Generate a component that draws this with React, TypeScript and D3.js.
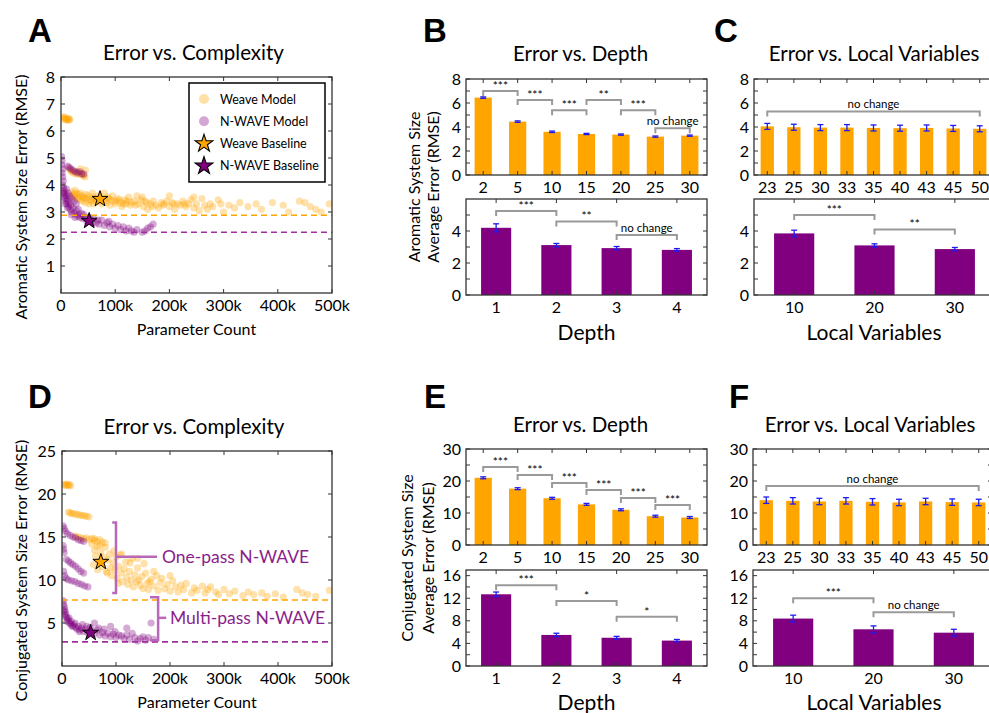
import React from "react";
import * as d3 from "d3";

const FONT = "Lato, 'Open Sans', sans-serif";
const ORANGE = "#FFA500";
const PURPLE = "#800080";
const NOTE = "#8a1e8a";
const GRAY = "#9a9a9a";

// ---- scatter data: [parameter count (k), RMSE] ----
const aromaticWeave: [number, number][] = [
  [3, 6.5], [5, 6.45], [6, 6.52], [8, 6.42], [9, 6.48], [11, 6.44], [12, 6.4], [14, 6.46], [15, 6.41], [16, 6.43],
  [15, 4.6], [18, 4.55], [20, 4.5], [22, 4.45], [25, 4.5], [27, 4.42], [30, 4.48], [32, 4.4], [35, 4.45], [38, 4.38],
  [40, 4.42], [42, 4.35], [44, 4.3], [45, 4.55], [36, 4.6],
  [20, 3.75], [22, 3.6], [25, 3.55], [28, 3.7], [30, 3.5], [32, 3.65], [35, 3.45], [38, 3.6], [40, 3.4], [42, 3.55],
  [45, 3.35], [48, 3.5], [50, 3.6], [52, 3.3], [55, 3.45], [58, 3.55], [60, 3.3], [62, 3.5], [65, 3.4], [68, 3.6],
  [75, 3.3], [78, 3.45], [80, 3.7], [85, 3.35], [88, 3.5], [90, 3.25], [95, 3.6], [98, 3.4], [100, 3.3], [105, 3.5],
  [110, 3.35], [112, 3.2], [118, 3.45], [120, 3.3], [125, 3.55], [128, 3.25], [135, 3.4], [140, 3.6], [142, 3.3],
  [148, 3.45], [152, 3.2], [158, 3.35], [160, 3.1], [165, 3.3], [170, 3.4], [175, 3.25], [180, 3.15], [185, 3.35],
  [190, 3.3], [195, 3.4], [200, 3.2], [205, 3.35], [210, 3.1], [215, 3.3], [220, 3.25], [225, 3.4], [230, 3.2],
  [235, 3.3], [240, 3.45], [245, 3.15], [250, 3.3], [255, 3.05], [260, 3.5], [265, 3.25], [270, 3.1], [275, 3.3],
  [280, 3.2], [290, 3.45], [295, 3.3], [300, 3.0], [310, 3.25], [320, 3.15], [330, 3.35], [345, 3.2], [360, 3.3],
  [370, 3.1], [390, 3.35], [410, 3.25], [420, 3.0], [440, 3.4], [450, 3.35], [460, 3.2], [470, 3.1], [480, 3.0],
  [495, 3.3], [245, 3.55], [200, 3.6], [150, 3.55],
  [24, 3.65], [33, 3.55], [44, 3.5], [56, 3.4], [66, 3.45], [72, 3.55], [82, 3.4], [92, 3.45], [102, 3.4],
  [115, 3.3], [130, 3.35], [138, 3.25], [155, 3.4], [168, 3.2], [188, 3.25], [208, 3.3], [228, 3.3],
  [26, 3.8], [36, 3.7], [46, 3.65], [58, 3.7], [70, 3.4], [86, 3.55], [108, 3.45], [122, 3.4],
];

const aromaticNwave: [number, number][] = [
  [1, 5.05], [2, 4.9], [1, 4.75], [3, 4.6], [2, 4.45], [3, 4.3], [4, 4.15], [3, 4.0], [5, 3.9], [4, 3.75],
  [6, 3.8], [7, 3.65], [6, 3.55], [8, 3.5], [9, 3.4], [10, 3.6], [11, 3.3], [12, 3.45], [14, 3.2], [15, 3.35],
  [17, 3.1], [18, 3.25], [20, 3.0], [22, 3.15], [25, 2.95], [28, 3.05], [30, 2.85], [33, 2.9], [35, 2.8], [38, 2.95],
  [40, 2.75], [45, 2.8], [48, 2.65], [55, 2.7], [58, 2.6], [60, 2.75], [65, 2.6], [70, 2.55], [75, 2.7], [80, 2.5],
  [85, 2.6], [90, 2.45], [95, 2.55], [100, 2.4], [105, 2.5], [110, 2.35], [115, 2.45], [120, 2.3], [125, 2.4],
  [130, 2.3], [135, 2.25], [140, 2.35], [150, 2.25], [155, 2.3], [160, 2.4], [165, 2.45], [170, 2.55],
  [12, 4.7], [15, 4.65], [18, 4.6], [22, 4.55], [26, 4.5], [30, 4.45], [34, 4.5], [38, 4.42], [42, 4.4],
  [10, 3.85], [13, 3.7], [16, 3.6], [20, 3.5], [24, 3.4], [28, 3.3],
  [5, 3.7], [8, 3.3], [12, 3.15], [19, 2.9], [26, 2.8], [32, 3.1], [42, 2.9], [52, 2.8], [68, 2.7], [88, 2.65],
];

const aromaticWeaveStar: [number, number] = [72, 3.48];
const aromaticNwaveStar: [number, number] = [52, 2.67];
const aromaticBest = [2.88, 2.25];

const conjugatedWeave: [number, number][] = [
  [4, 21.1], [6, 21.0], [8, 21.15], [10, 21.05], [12, 21.0], [14, 21.1], [16, 20.95],
  [12, 17.9], [15, 17.8], [18, 17.75], [22, 17.7], [26, 17.65], [30, 17.6], [34, 17.55], [38, 17.5], [42, 17.45],
  [46, 17.4], [50, 17.35],
  [25, 15.1], [30, 15.0], [35, 14.9], [40, 14.8], [45, 14.9], [50, 14.7], [55, 14.8], [60, 14.6], [65, 14.5],
  [70, 14.7], [75, 14.4], [80, 14.3],
  [55, 14.2], [60, 13.5], [62, 12.8], [65, 13.9], [68, 12.2], [72, 13.2], [75, 11.6], [78, 12.6], [80, 13.8],
  [82, 11.0], [85, 12.3], [88, 13.0], [90, 11.4], [92, 10.5], [95, 12.0], [98, 11.2], [100, 12.7], [102, 10.2],
  [105, 11.6], [108, 12.9], [110, 10.8], [112, 9.8], [115, 11.3], [118, 12.1], [120, 10.3], [122, 9.5], [125, 11.0],
  [128, 10.0], [130, 12.5], [132, 9.2], [135, 10.6], [138, 9.8], [140, 11.4], [145, 9.4], [148, 10.4], [150, 9.0],
  [155, 10.8], [158, 9.6], [160, 8.9], [165, 10.1], [170, 9.3], [175, 10.5], [178, 8.8], [182, 9.7], [185, 10.2],
  [190, 9.0], [195, 9.5], [200, 8.7], [205, 9.9], [210, 9.2], [215, 8.6], [220, 9.4], [225, 8.9], [230, 9.6],
  [240, 8.5], [245, 9.1], [250, 8.8], [260, 9.3], [265, 8.5], [270, 8.9], [275, 9.2], [285, 8.6], [290, 8.3],
  [300, 8.9], [310, 8.4], [320, 8.7], [335, 8.2], [345, 8.6], [355, 8.3], [370, 8.5], [380, 8.1], [395, 8.4],
  [410, 8.0], [435, 8.9], [445, 8.5], [455, 8.3], [470, 8.1], [495, 8.8], [60, 14.8], [70, 14.0], [110, 13.0],
  [140, 12.5], [170, 11.0], [200, 10.5],
  [58, 11.8], [66, 11.2], [84, 10.8], [96, 13.4], [104, 9.6], [126, 12.0], [142, 10.0], [152, 11.9], [162, 9.8],
];

const conjugatedNwave: [number, number][] = [
  [2, 16.3], [4, 16.0], [6, 15.7], [10, 15.4], [15, 15.2], [20, 15.0], [25, 14.9], [30, 14.7], [35, 14.6], [40, 14.5],
  [2, 14.0], [3, 13.6], [4, 13.2], [8, 12.4], [12, 12.2], [16, 12.0], [20, 11.8], [25, 11.6], [30, 11.3], [35, 11.0],
  [40, 10.8], [3, 11.0], [5, 10.5], [8, 10.2], [12, 10.0], [18, 9.9], [24, 9.8], [30, 9.6], [36, 9.5], [42, 9.3],
  [48, 9.2],
  [2, 7.6], [3, 7.2], [4, 6.9], [5, 6.6], [6, 6.3], [7, 6.0], [8, 5.7], [10, 5.5], [12, 5.3], [14, 5.0], [16, 4.9],
  [18, 4.7], [20, 4.6], [22, 4.8], [25, 4.5], [28, 4.3], [30, 4.6], [33, 4.2], [36, 4.4], [40, 4.0], [44, 4.3],
  [48, 3.9], [55, 4.1], [60, 3.8], [65, 4.2], [70, 3.6], [75, 3.9], [80, 3.5], [85, 3.8], [90, 3.4], [95, 3.7],
  [100, 3.3], [110, 3.5], [115, 3.2], [120, 3.6], [125, 3.1], [135, 3.3], [140, 2.9], [150, 3.4], [160, 3.3],
  [165, 5.0], [170, 3.1], [120, 4.4], [90, 4.6], [60, 5.0],
  [3, 6.4], [5, 5.9], [9, 5.2], [13, 5.6], [17, 5.2], [24, 5.0], [32, 4.0], [38, 4.8], [46, 4.6], [52, 4.5],
  [68, 4.4], [78, 4.3], [98, 4.0], [105, 3.6], [130, 3.8], [145, 3.2], [155, 3.0],
];

const conjugatedWeaveStar: [number, number] = [72, 12.1];
const conjugatedNwaveStar: [number, number] = [53, 3.85];
const conjugatedBest = [7.67, 2.8];

const paramTicks = [0, 100, 200, 300, 400, 500];
const aromaticTicks = [1, 2, 3, 4, 5, 6, 7, 8];
const conjugatedTicks = [5, 10, 15, 20, 25];

// ---- bar data ----
const depthWeave = ["2", "5", "10", "15", "20", "25", "30"];
const depthNwave = ["1", "2", "3", "4"];
const localWeave = ["23", "25", "30", "33", "35", "40", "43", "45", "50"];
const localNwave = ["10", "20", "30"];

const aroDepthWeave = [6.45, 4.45, 3.6, 3.42, 3.37, 3.2, 3.28];
const aroDepthWeaveErr = [0.06, 0.06, 0.06, 0.05, 0.05, 0.05, 0.05];
const aroDepthNwave = [4.2, 3.12, 2.93, 2.82];
const aroDepthNwaveErr = [0.25, 0.1, 0.1, 0.08];
const aroLocalWeave = [4.05, 3.98, 3.95, 3.95, 3.92, 3.9, 3.92, 3.88, 3.85];
const aroLocalWeaveErr = [0.25, 0.25, 0.25, 0.25, 0.25, 0.25, 0.25, 0.25, 0.25];
const aroLocalNwave = [3.85, 3.1, 2.87];
const aroLocalNwaveErr = [0.2, 0.1, 0.1];

const conDepthWeave = [21.0, 17.6, 14.6, 12.7, 11.0, 9.0, 8.6];
const conDepthWeaveErr = [0.3, 0.3, 0.3, 0.3, 0.3, 0.3, 0.3];
const conDepthNwave = [12.7, 5.5, 5.0, 4.5];
const conDepthNwaveErr = [0.4, 0.3, 0.25, 0.2];
const conLocalWeave = [14.0, 13.8, 13.6, 13.8, 13.5, 13.3, 13.6, 13.4, 13.3];
const conLocalWeaveErr = [1.0, 1.0, 1.0, 1.0, 1.0, 1.0, 1.0, 1.0, 1.0];
const conLocalNwave = [8.4, 6.5, 5.9];
const conLocalNwaveErr = [0.6, 0.6, 0.6];

type Sig = { from: number; to: number; y: number; label: string };

const aroDepthWeaveSig: Sig[] = [
  { from: 0, to: 1, y: 7.0, label: "***" },
  { from: 1, to: 2, y: 6.25, label: "***" },
  { from: 2, to: 3, y: 5.4, label: "***" },
  { from: 3, to: 4, y: 6.25, label: "**" },
  { from: 4, to: 5, y: 5.4, label: "***" },
  { from: 5, to: 6, y: 3.9, label: "no change" },
];
const aroDepthNwaveSig: Sig[] = [
  { from: 0, to: 1, y: 5.25, label: "***" },
  { from: 1, to: 2, y: 4.6, label: "**" },
  { from: 2, to: 3, y: 3.75, label: "no change" },
];
const aroLocalWeaveSig: Sig[] = [{ from: 0, to: 8, y: 5.3, label: "no change" }];
const aroLocalNwaveSig: Sig[] = [
  { from: 0, to: 1, y: 5.0, label: "***" },
  { from: 1, to: 2, y: 4.1, label: "**" },
];
const conDepthWeaveSig: Sig[] = [
  { from: 0, to: 1, y: 24.4, label: "***" },
  { from: 1, to: 2, y: 21.9, label: "***" },
  { from: 2, to: 3, y: 19.4, label: "***" },
  { from: 3, to: 4, y: 17.2, label: "***" },
  { from: 4, to: 5, y: 14.7, label: "***" },
  { from: 5, to: 6, y: 12.5, label: "***" },
];
const conDepthNwaveSig: Sig[] = [
  { from: 0, to: 1, y: 14.3, label: "***" },
  { from: 1, to: 2, y: 11.5, label: "*" },
  { from: 2, to: 3, y: 8.7, label: "*" },
];
const conLocalWeaveSig: Sig[] = [{ from: 0, to: 8, y: 18.4, label: "no change" }];
const conLocalNwaveSig: Sig[] = [
  { from: 0, to: 1, y: 12.0, label: "***" },
  { from: 1, to: 2, y: 9.5, label: "no change" },
];

// ---------------------------------------------------------------

function Frame({ x, y, w, h }: any) {
  return <rect x={x} y={y} width={w} height={h} fill="none" stroke="#333" strokeWidth={1.3} />;
}

function Letter({ x, y, children }: any) {
  return <text x={x} y={y} fontFamily="'Liberation Sans', Arial, sans-serif" fontWeight="bold" fontSize={33}>{children}</text>;
}

const starPath = d3.symbol().type(d3.symbolStar).size(80)();

function ScatterPanel(props: any) {
  const { id, left, top, w, h, yMax, yTicks, weave, nwave, weaveStar, nwaveStar, best, title, yLabel, children } = props;
  const x = d3.scaleLinear().domain([0, 500]).range([left, left + w]);
  const y = d3.scaleLinear().domain([0, yMax]).range([top + h, top]);
  return (
    <g fontFamily={FONT}>
      <text x={left + w / 2 - 3} y={top - 17} textAnchor="middle" fontSize={20.5}>{title}</text>
      <g clipPath={`url(#clip-${id})`}>
        {weave.map((d: [number, number], i: number) => (
          <circle key={"w" + i} cx={x(d[0])} cy={y(d[1])} r={3.6} fill={ORANGE} fillOpacity={0.33} />
        ))}
        {nwave.map((d: [number, number], i: number) => (
          <circle key={"n" + i} cx={x(d[0])} cy={y(d[1])} r={3.6} fill={PURPLE} fillOpacity={0.33} />
        ))}
      </g>
      <line x1={left} x2={left + w} y1={y(best[0])} y2={y(best[0])} stroke={ORANGE} strokeWidth={1.6} strokeDasharray="6,4" />
      <line x1={left} x2={left + w} y1={y(best[1])} y2={y(best[1])} stroke="#a030a0" strokeWidth={1.6} strokeDasharray="6,4" />
      <path d={starPath!} transform={`translate(${x(weaveStar[0])},${y(weaveStar[1])})`} fill={ORANGE} stroke="#000" strokeWidth={1} />
      <path d={starPath!} transform={`translate(${x(nwaveStar[0])},${y(nwaveStar[1])})`} fill={PURPLE} stroke="#000" strokeWidth={1} />
      {children && children(x, y)}
      <Frame x={left} y={top} w={w} h={h} />
      {paramTicks.map((t) => (
        <g key={"xt" + t}>
          <line x1={x(t)} x2={x(t)} y1={top + h} y2={top + h - 4} stroke="#333" />
          <line x1={x(t)} x2={x(t)} y1={top} y2={top + 4} stroke="#333" />
          <text x={x(t)} y={top + h + 18} textAnchor="middle" fontSize={16}>{t === 0 ? "0" : t + "k"}</text>
        </g>
      ))}
      {yTicks.map((t: number) => (
        <g key={"yt" + t}>
          <line x1={left} x2={left + 4} y1={y(t)} y2={y(t)} stroke="#333" />
          <line x1={left + w} x2={left + w - 4} y1={y(t)} y2={y(t)} stroke="#333" />
          <text x={left - 6} y={y(t) + 5.5} textAnchor="end" fontSize={16}>{t}</text>
        </g>
      ))}
      <text x={left + w / 2} y={top + h + 42} textAnchor="middle" fontSize={16}>Parameter Count</text>
      <text transform={`translate(27,${top + h / 2 + 12}) rotate(-90)`} textAnchor="middle" fontSize={16}>{yLabel}</text>
    </g>
  );
}

function BarAxes(props: any) {
  const { left, top, w, h, cats, values, errs, color, yMax, labelTicks, minorTicks, sig } = props;
  const x = d3.scaleBand().domain(cats).range([left, left + w]);
  const y = d3.scaleLinear().domain([0, yMax]).range([top + h, top]);
  const bw = x.bandwidth() * 0.5;
  const cx = (c: string) => (x(c) as number) + x.bandwidth() / 2;
  return (
    <g>
      {values.map((v: number, i: number) => (
        <rect key={"b" + i} x={cx(cats[i]) - bw / 2} y={y(v)} width={bw} height={y(0) - y(v)} fill={color} />
      ))}
      {values.map((v: number, i: number) => {
        const c = cx(cats[i]);
        return (
          <g key={"e" + i} stroke="#1c1cf0" strokeWidth={1.3}>
            <line x1={c} x2={c} y1={y(v - errs[i])} y2={y(v + errs[i])} />
            <line x1={c - 3} x2={c + 3} y1={y(v - errs[i])} y2={y(v - errs[i])} />
            <line x1={c - 3} x2={c + 3} y1={y(v + errs[i])} y2={y(v + errs[i])} />
          </g>
        );
      })}
      {sig.map((s: Sig, i: number) => {
        const x1 = cx(cats[s.from]);
        const x2 = cx(cats[s.to]);
        const yy = y(s.y);
        return (
          <g key={"s" + i}>
            <path d={`M${x1},${yy + 5}V${yy}H${x2}V${yy + 5}`} fill="none" stroke={GRAY} strokeWidth={2} />
            <text x={(x1 + x2) / 2} y={yy - (s.label === "no change" ? 3 : 1)} textAnchor="middle" fontSize={s.label === "no change" ? 11.5 : 12}>{s.label}</text>
          </g>
        );
      })}
      <Frame x={left} y={top} w={w} h={h} />
      {cats.map((c: string) => (
        <g key={"xt" + c}>
          <line x1={cx(c)} x2={cx(c)} y1={top + h} y2={top + h - 4} stroke="#333" />
          <line x1={cx(c)} x2={cx(c)} y1={top} y2={top + 4} stroke="#333" />
          <text x={cx(c)} y={top + h + 18} textAnchor="middle" fontSize={16}>{c}</text>
        </g>
      ))}
      {labelTicks.concat(minorTicks).map((t: number) => (
        <g key={"yt" + t}>
          <line x1={left} x2={left + 4} y1={y(t)} y2={y(t)} stroke="#333" />
          <line x1={left + w} x2={left + w - 4} y1={y(t)} y2={y(t)} stroke="#333" />
        </g>
      ))}
      {labelTicks.map((t: number) => (
        <text key={"yl" + t} x={left - 5} y={y(t) + 5.5} textAnchor="end" fontSize={16}>{t}</text>
      ))}
    </g>
  );
}

export default function App() {
  const bx = 466, cx0 = 754, pw = 241, cw = 239;
  const legendItems = [
    { label: "Weave Model", kind: "dot", color: ORANGE },
    { label: "N-WAVE Model", kind: "dot", color: PURPLE },
    { label: "Weave Baseline", kind: "star", color: ORANGE },
    { label: "N-WAVE Baseline", kind: "star", color: PURPLE },
  ];
  return (
    <svg width={989} height={713} style={{ position: "absolute", left: 0, top: 0, background: "#fff" }} fontFamily={FONT}>
      <defs>
        <clipPath id="clip-A"><rect x={61} y={77} width={271} height={216} /></clipPath>
        <clipPath id="clip-D"><rect x={62} y={451} width={270} height={215} /></clipPath>
      </defs>

      {/* A */}
      <Letter x={28} y={42}>A</Letter>
      <ScatterPanel id="A" left={61} top={77} w={271} h={216} yMax={8} yTicks={aromaticTicks}
        weave={aromaticWeave} nwave={aromaticNwave} weaveStar={aromaticWeaveStar} nwaveStar={aromaticNwaveStar}
        best={aromaticBest} title="Error vs. Complexity" yLabel="Aromatic System Size Error (RMSE)">
        {() => (
          <g>
            <rect x={189} y={83} width={136} height={99} fill="#fff" stroke="#000" strokeWidth={1.5} />
            {legendItems.map((it, i) => (
              <g key={it.label} transform={`translate(204,${99 + i * 22.3})`}>
                {it.kind === "dot"
                  ? <circle r={5} fill={it.color} fillOpacity={0.35} />
                  : <path d={starPath!} transform="scale(1.1)" fill={it.color} stroke="#000" strokeWidth={1} />}
                <text x={16} y={4.5} fontSize={12.5}>{it.label}</text>
              </g>
            ))}
          </g>
        )}
      </ScatterPanel>

      {/* D */}
      <Letter x={28} y={408}>D</Letter>
      <ScatterPanel id="D" left={62} top={451} w={270} h={215} yMax={25} yTicks={conjugatedTicks}
        weave={conjugatedWeave} nwave={conjugatedNwave} weaveStar={conjugatedWeaveStar} nwaveStar={conjugatedNwaveStar}
        best={conjugatedBest} title="Error vs. Complexity" yLabel="Conjugated System Size Error (RMSE)">
        {(x: any, y: any) => (
          <g stroke="#b868b8" strokeWidth={2.5} fill="none">
            <path d={`M${x(93)},${y(16.7)}H${x(100)}V${y(8.5)}H${x(93)}`} />
            <path d={`M${x(100)},${y(12.7)}H${x(176)}`} />
            <path d={`M${x(163)},${y(8.0)}H${x(178)}V${y(3.0)}H${x(163)}`} />
            <path d={`M${x(178)},${y(5.6)}H${x(193)}`} />
            <text x={x(185)} y={y(12.7) + 6} fontSize={17.5} fill={NOTE} stroke="none">One-pass N-WAVE</text>
            <text x={x(200)} y={y(5.6) + 6} fontSize={17.5} fill={NOTE} stroke="none">Multi-pass N-WAVE</text>
          </g>
        )}
      </ScatterPanel>

      {/* B */}
      <Letter x={423} y={42}>B</Letter>
      <text x={bx + pw / 2 - 6} y={61} textAnchor="middle" fontSize={20.5}>Error vs. Depth</text>
      <BarAxes left={bx} top={79} w={pw} h={96} cats={depthWeave} values={aroDepthWeave} errs={aroDepthWeaveErr}
        color={ORANGE} yMax={8} labelTicks={[0, 2, 4, 6, 8]} minorTicks={[1, 3, 5, 7]} sig={aroDepthWeaveSig} />
      <BarAxes left={bx} top={199} w={pw} h={96} cats={depthNwave} values={aroDepthNwave} errs={aroDepthNwaveErr}
        color={PURPLE} yMax={6} labelTicks={[0, 2, 4]} minorTicks={[1, 3, 5]} sig={aroDepthNwaveSig} />
      <text x={bx + pw / 2} y={340} textAnchor="middle" fontSize={21}>Depth</text>
      <text transform={`translate(420,187) rotate(-90)`} textAnchor="middle" fontSize={16}>Aromatic System Size</text>
      <text transform={`translate(439,187) rotate(-90)`} textAnchor="middle" fontSize={16}>Average Error (RMSE)</text>

      {/* C */}
      <Letter x={714} y={42}>C</Letter>
      <text x={cx0 + 120} y={61} textAnchor="middle" fontSize={20.5}>Error vs. Local Variables</text>
      <BarAxes left={cx0} top={79} w={cw} h={96} cats={localWeave} values={aroLocalWeave} errs={aroLocalWeaveErr}
        color={ORANGE} yMax={8} labelTicks={[0, 2, 4, 6, 8]} minorTicks={[1, 3, 5, 7]} sig={aroLocalWeaveSig} />
      <BarAxes left={cx0} top={199} w={pw} h={96} cats={localNwave} values={aroLocalNwave} errs={aroLocalNwaveErr}
        color={PURPLE} yMax={6} labelTicks={[0, 2, 4]} minorTicks={[1, 3, 5]} sig={aroLocalNwaveSig} />
      <text x={cx0 + 120} y={340} textAnchor="middle" fontSize={21}>Local Variables</text>

      {/* E */}
      <Letter x={424} y={408}>E</Letter>
      <text x={bx + pw / 2 - 6} y={432} textAnchor="middle" fontSize={20.5}>Error vs. Depth</text>
      <BarAxes left={bx} top={449} w={pw} h={96} cats={depthWeave} values={conDepthWeave} errs={conDepthWeaveErr}
        color={ORANGE} yMax={30} labelTicks={[0, 10, 20, 30]} minorTicks={[5, 15, 25]} sig={conDepthWeaveSig} />
      <BarAxes left={bx} top={570} w={pw} h={96} cats={depthNwave} values={conDepthNwave} errs={conDepthNwaveErr}
        color={PURPLE} yMax={17} labelTicks={[0, 4, 8, 12, 16]} minorTicks={[2, 6, 10, 14]} sig={conDepthNwaveSig} />
      <text x={bx + pw / 2} y={710} textAnchor="middle" fontSize={21}>Depth</text>
      <text transform={`translate(413,558) rotate(-90)`} textAnchor="middle" fontSize={16}>Conjugated System Size</text>
      <text transform={`translate(434,558) rotate(-90)`} textAnchor="middle" fontSize={16}>Average Error (RMSE)</text>

      {/* F */}
      <Letter x={729} y={408}>F</Letter>
      <text x={cx0 + 116} y={432} textAnchor="middle" fontSize={20.5}>Error vs. Local Variables</text>
      <BarAxes left={cx0 - 1} top={449} w={cw} h={96} cats={localWeave} values={conLocalWeave} errs={conLocalWeaveErr}
        color={ORANGE} yMax={30} labelTicks={[0, 10, 20, 30]} minorTicks={[5, 15, 25]} sig={conLocalWeaveSig} />
      <BarAxes left={cx0 - 1} top={570} w={pw} h={96} cats={localNwave} values={conLocalNwave} errs={conLocalNwaveErr}
        color={PURPLE} yMax={17} labelTicks={[0, 4, 8, 12, 16]} minorTicks={[2, 6, 10, 14]} sig={conLocalNwaveSig} />
      <text x={cx0 + 120} y={710} textAnchor="middle" fontSize={21}>Local Variables</text>
    </svg>
  );
}
